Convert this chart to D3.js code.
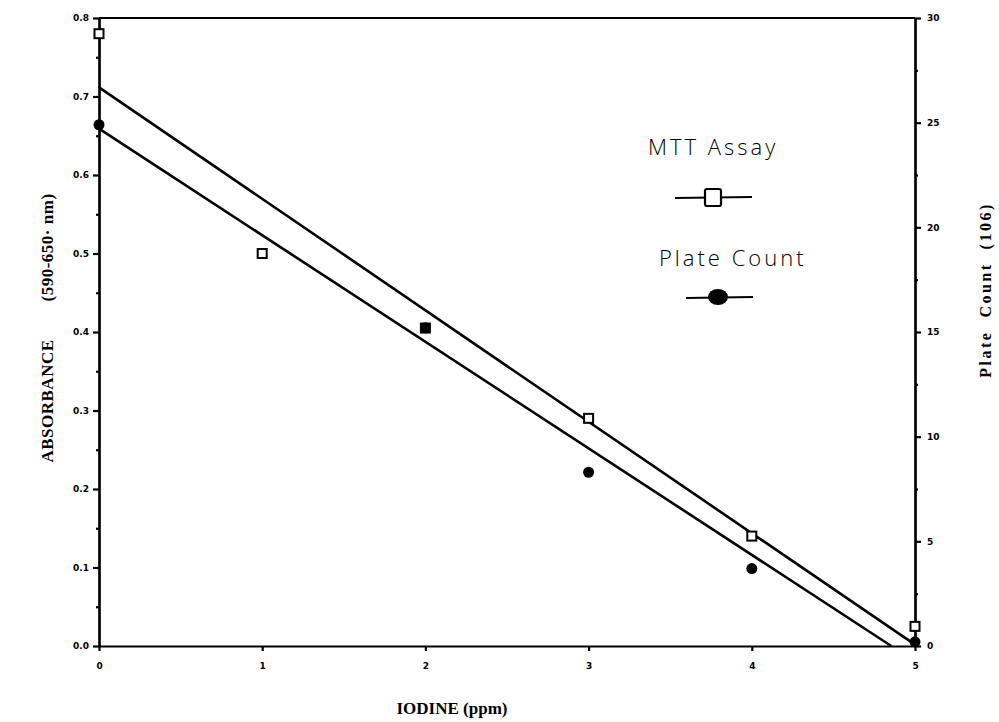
<!DOCTYPE html>
<html>
<head>
<meta charset="utf-8">
<script src="https://cdn.jsdelivr.net/npm/d3@7"></script>
<style>
  body { margin: 0; background: #fff; }
  .axis path, .axis line { stroke: #000; stroke-width: 2.2; }
  .axis text { font-family: "DejaVu Sans", sans-serif; font-weight: bold; font-size: 9px; fill: #000; }
  .fit { fill: none; stroke: #000; stroke-width: 2.6; }
  .title { font-family: "Liberation Serif", serif; font-weight: bold; fill: #000; }
  .hand { font-family: "Open Sans", sans-serif; font-weight: 300; font-size: 22px; letter-spacing: 3px; fill: #000; }
</style>
</head>
<body>
<script>
// data
const iodine = [0, 1, 2, 3, 4, 5];
const mttAbsorbance = [0.78, 0.5, 0.405, 0.29, 0.14, 0.025];
const plateCount = [24.9, null, 15.2, 8.3, 3.7, 0.2]; // no dot visible at 1 ppm

const xTicks = [0, 1, 2, 3, 4, 5];
const absTicks = [0, 0.1, 0.2, 0.3, 0.4, 0.5, 0.6, 0.7, 0.8];
const absMinor = [0.05, 0.15, 0.25, 0.35, 0.45, 0.55, 0.65, 0.75];
const countTicks = [0, 5, 10, 15, 20, 25, 30];
const countMinor = [2.5, 7.5, 12.5, 17.5, 22.5, 27.5];

const W = 999, H = 722;
const margin = { top: 18, right: 84, bottom: 76, left: 99 };
const width = W - margin.left - margin.right;
const height = H - margin.top - margin.bottom;

const x = d3.scaleLinear().domain([0, 5]).range([0, width]);
const yAbs = d3.scaleLinear().domain([0, 0.8]).range([height, 0]);
const yCount = d3.scaleLinear().domain([0, 30]).range([height, 0]);

const svg = d3.select('body').append('svg')
  .attr('width', W).attr('height', H);

const g = svg.append('g').attr('transform', `translate(${margin.left},${margin.top})`);

// least squares line through the points that exist
const fit = (xs, ys) => {
  const pts = xs.map((v, i) => [v, ys[i]]).filter(p => p[1] != null);
  const mx = d3.mean(pts, p => p[0]), my = d3.mean(pts, p => p[1]);
  const sxy = d3.sum(pts, p => (p[0] - mx) * (p[1] - my));
  const sxx = d3.sum(pts, p => (p[0] - mx) ** 2);
  const b = sxy / sxx, a = my - b * mx;
  const xEnd = Math.min(5, -a / b);
  return [[0, a], [xEnd, a + b * xEnd]];
};

// frame top line
g.append('line').attr('x1', 0).attr('x2', width).attr('y1', 0).attr('y2', 0)
  .attr('stroke', '#000').attr('stroke-width', 2.2);

// axes
g.append('g').attr('class', 'axis')
  .attr('transform', `translate(0,${height})`)
  .call(d3.axisBottom(x).tickValues(xTicks).tickFormat(d3.format('d')).tickSizeOuter(0).tickSizeInner(5).tickPadding(12));

g.append('g').attr('class', 'axis')
  .call(d3.axisLeft(yAbs).tickValues(absTicks).tickFormat(d3.format('.1f')).tickSizeOuter(0).tickSizeInner(6).tickPadding(4));
g.append('g').attr('class', 'axis')
  .call(d3.axisLeft(yAbs).tickValues(absMinor).tickFormat('').tickSizeOuter(0).tickSizeInner(3));

g.append('g').attr('class', 'axis')
  .attr('transform', `translate(${width},0)`)
  .call(d3.axisRight(yCount).tickValues(countTicks).tickFormat(d3.format('d')).tickSizeOuter(0).tickSizeInner(6).tickPadding(6));
g.append('g').attr('class', 'axis')
  .attr('transform', `translate(${width},0)`)
  .call(d3.axisRight(yCount).tickValues(countMinor).tickFormat('').tickSizeOuter(0).tickSizeInner(3));

// fitted lines
const mttLine = d3.line().x(d => x(d[0])).y(d => yAbs(d[1]));
const countLine = d3.line().x(d => x(d[0])).y(d => yCount(d[1]));

g.append('path').attr('class', 'fit').attr('d', mttLine(fit(iodine, mttAbsorbance)));
g.append('path').attr('class', 'fit').attr('d', countLine(fit(iodine, plateCount)));

// plate count dots
g.selectAll('.dot')
  .data(iodine.map((v, i) => [v, plateCount[i]]).filter(d => d[1] != null))
  .enter().append('circle')
  .attr('class', 'dot')
  .attr('cx', d => x(d[0]))
  .attr('cy', d => yCount(d[1]))
  .attr('r', 5.5)
  .attr('fill', '#000');

// MTT squares
const sq = 9;
g.selectAll('.sq')
  .data(iodine.map((v, i) => [v, mttAbsorbance[i]]))
  .enter().append('rect')
  .attr('class', 'sq')
  .attr('x', d => x(d[0]) - sq / 2)
  .attr('y', d => yAbs(d[1]) - sq / 2)
  .attr('width', sq).attr('height', sq)
  .attr('fill', d => d[0] === 2 ? '#000' : '#fff')
  .attr('stroke', '#000').attr('stroke-width', 2);

// axis titles
svg.append('text').attr('class', 'title')
  .attr('transform', 'translate(53,328) rotate(-90)')
  .attr('text-anchor', 'middle')
  .style('font-size', '17px')
  .style('letter-spacing', '0.5px')
  .attr('xml:space', 'preserve')
  .text('ABSORBANCE        (590-650· nm)');

svg.append('text').attr('class', 'title')
  .attr('transform', 'translate(991,290) rotate(-90)')
  .attr('text-anchor', 'middle')
  .style('font-size', '16px')
  .style('letter-spacing', '2.5px')
  .attr('xml:space', 'preserve')
  .text('Plate  Count  (106)');

svg.append('text').attr('class', 'title')
  .attr('x', 452).attr('y', 714)
  .attr('text-anchor', 'middle')
  .style('font-size', '17px')
  .text('IODINE (ppm)');

// hand drawn legend
const leg = svg.append('g');
leg.append('text').attr('class', 'hand').attr('x', 648).attr('y', 155).text('MTT Assay');
leg.append('line').attr('x1', 675).attr('x2', 752).attr('y1', 198).attr('y2', 197)
  .attr('stroke', '#000').attr('stroke-width', 2);
leg.append('rect').attr('x', 705).attr('y', 189).attr('width', 16).attr('height', 17)
  .attr('rx', 2).attr('fill', '#fff').attr('stroke', '#000').attr('stroke-width', 2.2);
leg.append('text').attr('class', 'hand').attr('x', 659).attr('y', 266).text('Plate Count');
leg.append('line').attr('x1', 686).attr('x2', 753).attr('y1', 298).attr('y2', 297)
  .attr('stroke', '#000').attr('stroke-width', 2);
leg.append('ellipse').attr('cx', 718).attr('cy', 297).attr('rx', 10).attr('ry', 8)
  .attr('fill', '#000');
</script>
</body>
</html>
